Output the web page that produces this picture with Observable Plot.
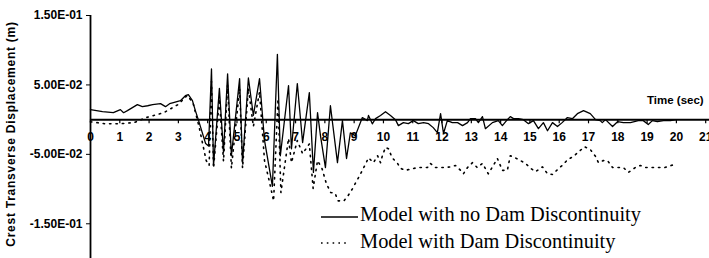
<!DOCTYPE html>
<html>
<head>
<meta charset="utf-8">
<script src="https://cdn.jsdelivr.net/npm/d3@7"></script>
<script src="https://cdn.jsdelivr.net/npm/@observablehq/plot@0.6"></script>
<style>
  body { margin: 0; background: white; }
  #wrap { position: relative; width: 709px; height: 258px; overflow: hidden; }
  #legend { position: absolute; left: 318px; top: 203px; }
  #ytitle { position: absolute; left: 11px; top: 134px; transform: translate(-50%, -50%) rotate(-90deg);
            font: bold 12px "Liberation Sans", Arial, sans-serif; letter-spacing: 0.75px; white-space: nowrap; }
</style>
</head>
<body>
<div id="wrap">
  <div id="chart"></div>
  <div id="ytitle">Crest Transverse Displacement (m)</div>
  <svg id="legend" width="390" height="55">
    <line x1="3" x2="40" y1="14" y2="14" stroke="black" stroke-width="1.3"/>
    <text x="42" y="18" font-family="Liberation Serif, Times New Roman, serif" font-size="20.4">Model with no Dam Discontinuity</text>
    <line x1="3" x2="30" y1="40" y2="40" stroke="black" stroke-width="1.6" stroke-dasharray="1.6,4.2"/>
    <text x="42" y="45" font-family="Liberation Serif, Times New Roman, serif" font-size="20.4">Model with Dam Discontinuity</text>
  </svg>
</div>
<script>
// Model with no Dam Discontinuity (solid)
const timeSolid = [0, 0.41, 0.78, 1.02, 1.13, 1.26, 1.43, 1.6, 1.77, 1.95, 2.12, 2.39, 2.56, 2.7, 2.83, 3.07, 3.24, 3.34, 3.48, 3.58, 3.69, 3.93, 4.03,
  4.13, 4.2, 4.4, 4.54, 4.68, 4.81, 5.09, 5.19, 5.39, 5.56, 5.77, 5.94, 6.21, 6.38, 6.48, 6.76, 6.86, 7.06, 7.24, 7.47, 7.61, 7.75, 7.85, 8.02,
  8.19, 8.43, 8.6, 8.74, 8.87, 9.04, 9.28, 9.45, 9.49, 9.62, 9.73, 9.9, 10.07, 10.24, 10.41, 10.51, 10.68, 10.85, 11.02, 11.19, 11.37, 11.54,
  11.7, 11.84, 11.95, 12.05, 12.18, 12.35, 12.53, 12.7, 12.87, 12.97, 13.14, 13.24, 13.38, 13.48, 13.72, 13.92, 14.06, 14.23, 14.33, 14.44,
  14.61, 14.78, 14.95, 15.12, 15.29, 15.46, 15.6, 15.77, 15.94, 16.1, 16.28, 16.45, 16.62, 16.83, 17.06, 17.24, 17.4, 17.47, 17.58, 17.82,
  17.99, 18.19, 18.43, 18.7, 18.87, 19.04, 19.18, 19.35, 19.56, 19.8, 19.97];
const dispSolid = [0.0144, 0.0115, 0.010, 0.0144, 0.010, 0.013, 0.0173, 0.0216, 0.0187, 0.020, 0.0216, 0.023, 0.0187, 0.023, 0.0245, 0.0273, 0.0345, 0.036, 0.0273, 0.013, -0.0014, -0.0345, -0.038,
  0.073, -0.066, 0.045, -0.047, 0.066, -0.052, 0.059, -0.062, 0.060, 0.006, 0.059, -0.030, -0.096, 0.094, -0.052, 0.049, -0.042, 0.052, -0.033, 0.039, -0.076, 0.010, -0.023, -0.069,
  0.020, -0.062, -0.0014, -0.056, -0.019, -0.023, 0.003, -0.0014, 0.006, -0.006, 0.0014, 0.006, 0.0115, 0.006, 0, -0.0086, -0.0043, -0.0058, -0.0014, -0.0058, -0.0043, -0.0058,
  -0.0115, -0.0187, 0.0086, -0.020, -0.0014, -0.0043, -0.0043, -0.0086, -0.0043, 0.0014, 0.0014, -0.0043, 0.0043, -0.013, -0.0043, -0.0014, -0.0086, 0, 0.0043, 0.0014,
  0.0014, 0, -0.0058, -0.0014, -0.013, -0.0043, -0.016, -0.0043, -0.010, -0.0043, 0.003, 0.0014, 0.0086, 0.013, 0.0086, 0, -0.0014, -0.0043, 0, -0.010,
  -0.003, -0.0043, -0.0043, -0.0014, -0.0014, -0.007, -0.0014, -0.003, -0.0014, -0.0014, 0];

// Model with Dam Discontinuity (dotted)
const timeDotted = [0, 0.5, 1.0, 1.5, 1.9, 2.5, 3.0, 3.3, 3.5, 3.7, 3.95, 4.05, 4.13, 4.2, 4.4, 4.54, 4.68, 4.81, 5.09, 5.19, 5.39, 5.56, 5.77, 5.94,
  6.1, 6.25, 6.4, 6.5, 6.76, 6.86, 7.06, 7.24, 7.47, 7.6, 7.75, 7.9, 8.05, 8.2, 8.35, 8.45, 8.65, 8.8, 8.95, 9.05, 9.22, 9.4, 9.49, 9.66, 9.8,
  9.9, 9.97, 10.07, 10.17, 10.3, 10.48, 10.58, 10.75, 11.16, 11.5, 11.6, 11.77, 11.95, 12.1, 12.3, 12.46, 12.63, 12.73, 12.87, 13.04, 13.2,
  13.38, 13.58, 13.75, 13.89, 14.06, 14.23, 14.33, 14.5, 14.85, 15.02, 15.19, 15.43, 15.6, 15.77, 15.94, 16.1, 16.28, 16.48, 16.65, 16.86,
  17.06, 17.24, 17.34, 17.5, 17.65, 17.82, 18.02, 18.19, 18.36, 18.6, 18.77, 18.94, 19.18, 19.39, 19.6, 19.9];
const dispDotted = [-0.003, -0.006, -0.006, -0.004, 0.003, 0.010, 0.022, 0.035, 0.024, -0.009, -0.059, -0.066, 0.055, -0.070, 0.030, -0.060, 0.050, -0.070, 0.045, -0.070, 0.045, -0.010, 0.040, -0.059,
  -0.088, -0.117, 0.030, -0.105, -0.027, -0.062, -0.030, -0.049, -0.035, -0.099, -0.059, -0.070, -0.092, -0.105, -0.106, -0.117, -0.117, -0.109, -0.099, -0.091, -0.078, -0.063, -0.055, -0.062, -0.052,
  -0.062, -0.051, -0.040, -0.042, -0.055, -0.063, -0.070, -0.073, -0.069, -0.069, -0.063, -0.069, -0.069, -0.069, -0.068, -0.066, -0.073, -0.078, -0.069, -0.062, -0.069,
  -0.063, -0.078, -0.066, -0.056, -0.073, -0.073, -0.052, -0.055, -0.063, -0.070, -0.075, -0.068, -0.078, -0.079, -0.072, -0.066, -0.058, -0.053, -0.047, -0.039,
  -0.043, -0.053, -0.062, -0.059, -0.059, -0.069, -0.069, -0.069, -0.076, -0.069, -0.066, -0.069, -0.069, -0.069, -0.069, -0.065];

const xTicks = [0,1,2,3,4,5,6,7,8,9,10,11,12,13,14,15,16,17,18,19,20,21];
const yTicks = [0.15, 0.05, -0.05, -0.15];
const yTickLabels = ["1.50E-01", "5.00E-02", "-5.00E-02", "-1.50E-01"];

const solid = timeSolid.map((t, i) => ({t, v: dispSolid[i]}));
const dotted = timeDotted.map((t, i) => ({t, v: dispDotted[i]}));

const tickFont = {fontWeight: "bold", fontSize: 12};

const chart = Plot.plot({
  width: 709,
  height: 258,
  marginLeft: 90,
  marginRight: 0,
  marginTop: 15,
  marginBottom: 0,
  style: {fontFamily: "Liberation Sans, Arial, sans-serif", background: "white", overflow: "visible"},
  x: {domain: [0, 21.13], axis: null},
  y: {domain: [-0.2, 0.15], axis: null},
  marks: [
    Plot.axisY(yTicks, {tickFormat: (d) => yTickLabels[yTicks.indexOf(d)], tickSize: 4, tickPadding: 4, label: null, ...tickFont}),
    Plot.ruleX([0], {strokeWidth: 1.8}),
    Plot.ruleY([0], {strokeWidth: 2}),
    Plot.ruleX(xTicks, {x: (d) => d, y1: 0, y2: -0.006, strokeWidth: 1.2}),
    Plot.text(xTicks, {x: (d) => d, y: 0, dy: 18, text: (d) => String(d), ...tickFont}),
    Plot.text(["Time (sec)"], {x: 21, y: 0, dx: -2, dy: -19, textAnchor: "end", fontWeight: "bold", fontSize: 11.5}),
    Plot.line(dotted, {x: "t", y: "v", stroke: "black", strokeWidth: 1.6, strokeDasharray: "1.4,5", strokeLinecap: "round"}),
    Plot.line(solid, {x: "t", y: "v", stroke: "black", strokeWidth: 1.3})
  ]
});
document.getElementById("chart").appendChild(chart);
</script>
</body>
</html>
